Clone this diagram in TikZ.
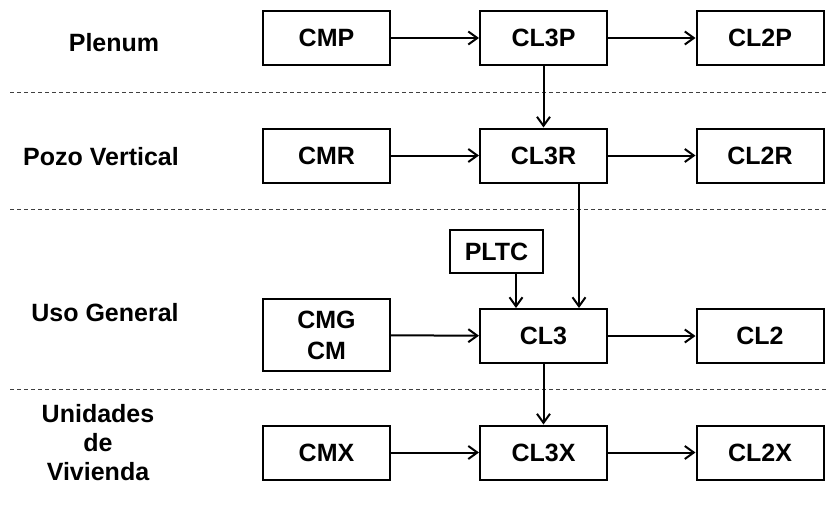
\documentclass[tikz,border=0pt]{standalone}
\usepackage{fontspec}
\setmainfont{Liberation Sans}
\usetikzlibrary{arrows.meta}
\begin{document}
\begin{tikzpicture}[x=1pt,y=-1pt,
  box/.style={draw,line width=2pt,minimum width=127pt,minimum height=54pt,inner sep=0pt,font=\fontsize{25}{27}\selectfont\bfseries,align=center},
  lab/.style={font=\fontsize{25}{30}\selectfont\bfseries,align=center},
  conn/.style={line width=2pt,-{Straight Barb[length=9pt,width=13pt,line width=2pt]}},
  sep/.style={line width=1pt,draw=black!75,dash pattern=on 4pt off 3pt}]
\useasboundingbox (0,0) rectangle (828,504);
% separators
\coordinate (s1a) at (10,92); \coordinate (s1b) at (828,92);
\coordinate (s2a) at (10,209); \coordinate (s2b) at (828,209);
\coordinate (s3a) at (10,389); \coordinate (s3b) at (828,389);
\draw[sep] (s1a) -- (s1b);
\draw[sep] (s2a) -- (s2b);
\draw[sep] (s3a) -- (s3b);
% labels
\node[lab] (lp) at (114,43) {Plenum};
\node[lab] (lr) at (101,157) {Pozo Vertical};
\node[lab] (lg) at (105,313) {Uso General};
\node[lab,font=\fontsize{25}{29}\selectfont\bfseries] (lv) at (98,443) {Unidades\\de\\Vivienda};
% boxes
\node[box] (cmp) at (326.5,38) {CMP};
\node[box] (cl3p) at (543.5,38) {CL3P};
\node[box] (cl2p) at (760,38) {CL2P};
\node[box] (cmr) at (326.5,155.5) {CMR};
\node[box] (cl3r) at (543.5,155.5) {CL3R};
\node[box] (cl2r) at (760,155.5) {CL2R};
\node[box,minimum width=93pt,minimum height=43pt] (pltc) at (496.5,251.5) {PLTC};
\node[box,minimum height=72pt,font=\fontsize{25}{31}\selectfont\bfseries] (cmg) at (326.5,335) {CMG\\CM};
\node[box] (cl3) at (543.5,336) {CL3};
\node[box] (cl2) at (760,336) {CL2};
\node[box] (cmx) at (326.5,452.5) {CMX};
\node[box] (cl3x) at (543.5,452.5) {CL3X};
\node[box] (cl2x) at (760,452.5) {CL2X};
% connectors
\draw[conn] (cmp) -- (cl3p);
\draw[conn] (cl3p) -- (cl2p);
\draw[conn] (cmr) -- (cl3r);
\draw[conn] (cl3r) -- (cl2r);
\draw[conn] (cmg) -- (cl3);
\draw[conn] (cl3) -- (cl2);
\draw[conn] (cmx) -- (cl3x);
\draw[conn] (cl3x) -- (cl2x);
\draw[conn] (cl3p) -- (cl3r);
\draw[conn] (cl3) -- (cl3x);
\draw[conn] (cl3r.south -| 579,0) -- (cl3.north -| 579,0);
\draw[conn] (pltc.south -| 516,0) -- (cl3.north -| 516,0);
\end{tikzpicture}
\end{document}
